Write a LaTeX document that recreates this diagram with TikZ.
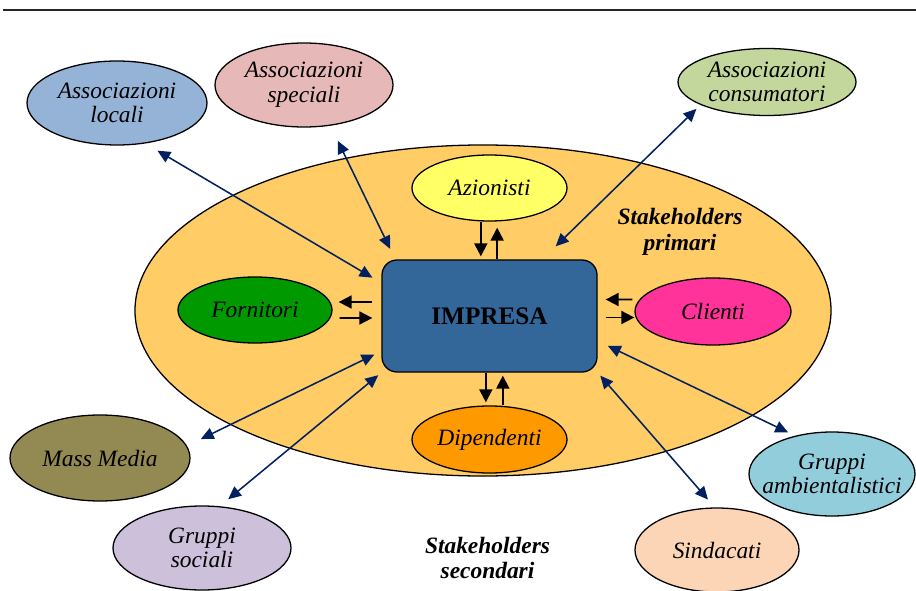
\documentclass[tikz,border=0pt]{standalone}
\usepackage{fontspec}
\setmainfont{Liberation Serif}
\usetikzlibrary{positioning,arrows.meta,calc,shapes.geometric}
\definecolor{cprim}{RGB}{255,204,102}
\definecolor{cimpr}{RGB}{51,102,153}
\definecolor{cazi}{RGB}{255,255,102}
\definecolor{cforn}{RGB}{0,153,0}
\definecolor{ccli}{RGB}{255,51,153}
\definecolor{cdip}{RGB}{255,153,0}
\definecolor{cloc}{RGB}{149,179,215}
\definecolor{cspec}{RGB}{230,185,184}
\definecolor{ccons}{RGB}{195,214,155}
\definecolor{cmm}{RGB}{147,137,83}
\definecolor{csoc}{RGB}{204,192,218}
\definecolor{camb}{RGB}{146,205,220}
\definecolor{csin}{RGB}{251,213,181}
\definecolor{navy}{RGB}{0,32,96}
\tikzset{
  holder/.style={ellipse,draw,line width=1.1pt,inner xsep=-14pt,inner ysep=-4pt,align=center,
    font=\fontsize{20}{21}\selectfont\itshape},
  blk/.style={-{Triangle[length=11pt,width=11pt]},line width=1.6pt},
  nav/.style={{Triangle[length=11pt,width=10pt]}-{Triangle[length=11pt,width=10pt]},draw=navy,line width=1.3pt},
  grp/.style={align=center,font=\fontsize{20}{22}\selectfont\bfseries\itshape}
}

\begin{document}
\begin{tikzpicture}[x=0.03cm,y=-0.03cm]
\useasboundingbox (0,0) rectangle (916,591);
\draw[line width=2.5pt,black!85] (3,10) -- (916,10);
\node[ellipse,draw,line width=1.1pt,fill=cprim,minimum width=20.88cm,minimum height=9.93cm] (prim) at (483,310.5) {};
\node[draw,line width=1.1pt,fill=cimpr,rounded corners=0.45cm,minimum width=6.45cm,minimum height=3.36cm,
  font=\fontsize{21.5}{24}\selectfont\bfseries] (impresa) at (489.5,316) {IMPRESA};
\node[holder,fill=cazi,minimum width=4.65cm,minimum height=1.98cm] (azi) at (489.5,188) {Azionisti};
\node[holder,fill=cdip,minimum width=4.65cm,minimum height=2.01cm] (dip) at (489.5,439.5) {Dipendenti};
\node[holder,fill=cforn,minimum width=4.62cm,minimum height=1.98cm] (forn) at (255,310) {Fornitori};
\node[holder,fill=ccli,minimum width=4.68cm,minimum height=2.01cm] (cli) at (713,311.5) {Clienti};
\node[holder,fill=cloc,minimum width=5.4cm,minimum height=2.52cm] (loc) at (117,103) {Associazioni\\locali};
\node[holder,fill=cspec,minimum width=5.34cm,minimum height=2.52cm] (spec) at (304,85) {Associazioni\\speciali};
\node[holder,fill=ccons,minimum width=5.34cm,minimum height=2.01cm] (cons) at (767,82) {Associazioni\\consumatori};
\node[holder,fill=cmm,minimum width=5.4cm,minimum height=2.58cm] (mm) at (100,458) {Mass Media};
\node[holder,fill=csoc,minimum width=5.34cm,minimum height=2.52cm] (soc) at (202,548) {Gruppi\\sociali};
\node[holder,fill=camb,minimum width=4.98cm,minimum height=2.52cm] (amb) at (832,474) {Gruppi\\ambientalistici};
\node[holder,fill=csin,minimum width=4.92cm,minimum height=2.52cm] (sin) at (717,550) {Sindacati};
\node[grp] (sprim) at (680,232) {Stakeholders\\primari};
\node[grp] (ssec) at (487.5,558) {Stakeholders\\secondari};

\draw[blk,shorten >=0.09cm] ([xshift=-0.26cm]azi.south) -- ([xshift=-0.26cm]impresa.north);
\draw[blk,shorten >=0.18cm] ([xshift=0.23cm]impresa.north) -- ([xshift=0.23cm]azi.south);
\draw[blk,shorten >=0.09cm] ([xshift=-0.11cm]impresa.south) -- ([xshift=-0.11cm]dip.north);
\draw[blk,shorten >=0.09cm] ([xshift=0.4cm]dip.north) -- ([xshift=0.4cm]impresa.south);
\draw[blk] ([xshift=-0.27cm,yshift=0.42cm]impresa.west) -- ([xshift=0.18cm,yshift=0.24cm]forn.east);
\draw[blk] ([xshift=0.21cm,yshift=-0.24cm]forn.east) -- ([xshift=-0.27cm,yshift=-0.06cm]impresa.west);
\draw[blk] ([xshift=-0.06cm,yshift=0.36cm]cli.west) -- ([xshift=0.24cm,yshift=0.495cm]impresa.east);
\draw[blk] ([xshift=0.24cm,yshift=-0.045cm]impresa.east) -- ([yshift=-0.18cm]cli.west);

\draw[nav,shorten <=0.42cm,shorten >=0.31cm] (loc.-55) -- (impresa.163);
\draw[nav,shorten <=0.5cm,shorten >=0.35cm] (spec.-57) -- (impresa.149);
\draw[nav,shorten <=0.17cm,shorten >=0.56cm] (cons.-161) -- (impresa.47);
\draw[nav,shorten <=0.46cm,shorten >=0.23cm] (mm.8) -- (impresa.-162.5);
\draw[nav,shorten <=0.33cm,shorten >=0.12cm] (soc.67) -- (impresa.south west);
\draw[nav,shorten <=0.23cm,shorten >=0.34cm] (amb.134.5) -- (impresa.-13.6);
\draw[nav,shorten <=0.31cm,shorten >=0.12cm] (sin.93) -- (impresa.south east);
\end{tikzpicture}
\end{document}
